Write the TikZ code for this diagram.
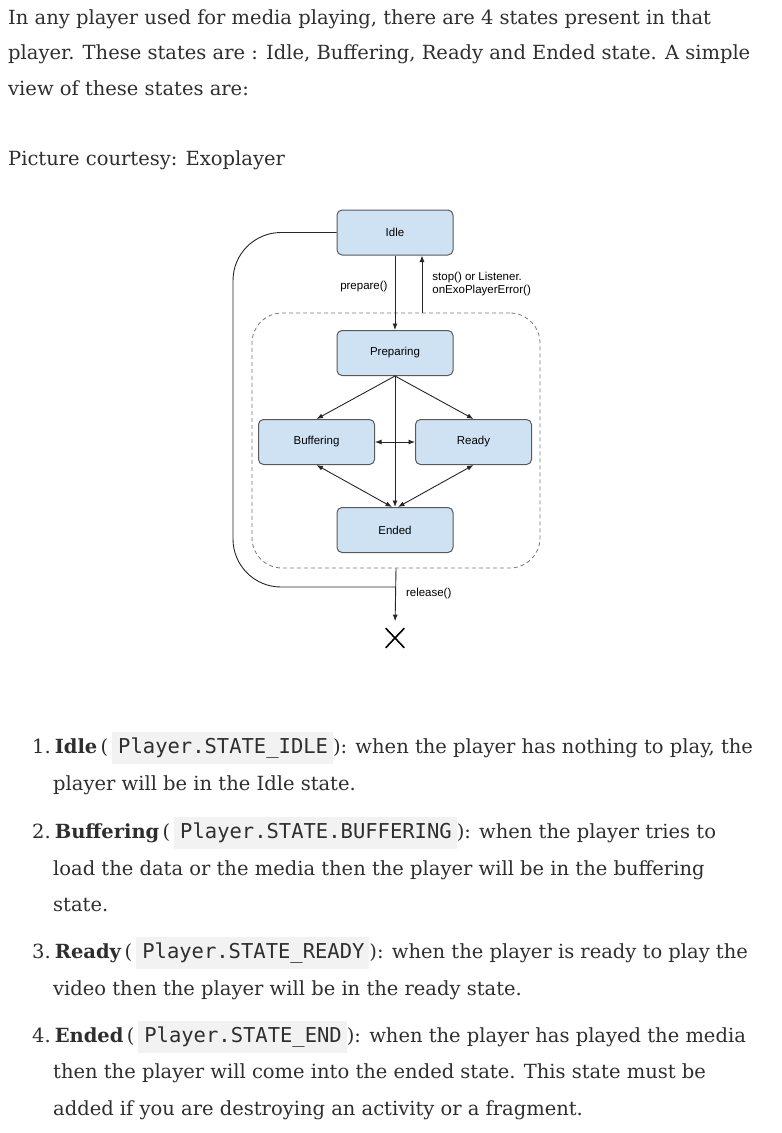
\documentclass[tikz,border=0pt]{standalone}
\usepackage{fontspec}
\setmainfont{DejaVu Serif}
\setsansfont{Liberation Sans}
\newfontfamily\monofont{DejaVu Sans Mono}
\usetikzlibrary{arrows.meta,shapes.misc}

\definecolor{textgray}{HTML}{2E2E2E}
\definecolor{codebg}{HTML}{F2F2F2}
\definecolor{statefill}{HTML}{CFE2F3}
\definecolor{stateline}{HTML}{595959}
\definecolor{linkgray}{HTML}{262626}
\definecolor{groupgray}{HTML}{7A7A7A}

\newcommand{\statecode}[1]{{\setlength{\fboxsep}{0pt}\colorbox{codebg}{\rule[-11pt]{0pt}{32pt}\hspace{6pt}{\monofont\fontsize{20.5}{24}\selectfont #1}\hspace{5pt}}}}

\begin{document}
\begin{tikzpicture}[x=1pt, y=-1pt, >={Latex[length=6.5pt,width=5pt]},
		line/.style={anchor=base west, inner sep=0pt, text=textgray, font=\fontsize{19.5}{24}\selectfont},
		state/.style={draw=stateline, fill=statefill, rounded corners=5pt, line width=1pt,
			minimum width=116, minimum height=45, font=\sffamily\fontsize{11.5}{13}\selectfont},
		group/.style={draw=groupgray, line width=0.8pt, dash pattern=on 4pt off 3pt, rounded corners=30pt,
			minimum width=288, minimum height=255},
		lab/.style={inner sep=0pt, align=left, font=\sffamily\fontsize{11.5}{13}\selectfont},
		link/.style={draw=linkgray, line width=0.9pt}]
	\useasboundingbox (0,0) rectangle (782,1133);
	% text above the picture
	\node[line] (intro1) at (8,24) {In any player used for media playing, there are 4 states present in that};
	\node[line] (intro2) at (8,59) {player. These states are : Idle, Buffering, Ready and Ended state. A simple};
	\node[line] (intro3) at (8,95) {view of these states are:};
	\node[line] (credit) at (8,165) {Picture courtesy: Exoplayer};
	% states
	\node[state] (idle) at (395,232.5) {Idle};
	\node[state] (prep) at (395,353) {Preparing};
	\node[state] (buff) at (316.5,442) {Buffering};
	\node[state] (ready) at (473.5,442) {Ready};
	\node[state] (ended) at (395,530) {Ended};
	\node[group] (group) at (396,440.5) {};
	\node[cross out, draw=black, line width=1.6pt, minimum width=17, minimum height=18, inner sep=0pt] (gone) at (395,638) {};
	\coordinate (join) at (395,587);
	% transitions
	\draw[link,->] (idle) -- node[lab, pos=0.42, left=7pt] {prepare()} (prep);
	\draw[link,->] ([xshift=27pt]idle.south |- group.north) -- node[lab, right=10pt] {stop() or Listener.\\onExoPlayerError()} ([xshift=27pt]idle.south);
	\draw[link,->] (prep.south) -- (buff.north);
	\draw[link,->] (prep.south) -- (ready.north);
	\draw[link,->] (prep) -- (ended);
	\draw[link,<->] (buff) -- (ready);
	\draw[link,<->] (buff.south) -- ([xshift=-3pt]ended.north);
	\draw[link,<->] (ready.south) -- ([xshift=3pt]ended.north);
	\draw[link, rounded corners=48pt] (idle.west) -- (233,232.5) -- (233,587) -- (join);
	\draw[link,->,shorten >=7pt] (group.south) -- node[lab, pos=0.42, right=10pt] {release()} (gone.north);
	% list below the picture
	\node[line] (idle1) at (32,753) {1.\hspace{4pt}\textbf{Idle}\,(\hspace{4pt}\statecode{Player.STATE\_IDLE}): when the player has nothing to play, the};
	\node[line] (idle2) at (53,790) {player will be in the Idle state.};
	\node[line] (buff1) at (32,838) {2.\hspace{4pt}\textbf{Buffering}\,(\hspace{4pt}\statecode{Player.STATE.BUFFERING}): when the player tries to};
	\node[line] (buff2) at (53,875) {load the data or the media then the player will be in the buffering};
	\node[line] (buff3) at (53,911) {state.};
	\node[line] (ready1) at (32,958) {3.\hspace{4pt}\textbf{Ready}\,(\hspace{4pt}\statecode{Player.STATE\_READY}): when the player is ready to play the};
	\node[line] (ready2) at (53,995) {video then the player will be in the ready state.};
	\node[line] (ended1) at (32,1042) {4.\hspace{4pt}\textbf{Ended}\,(\hspace{4pt}\statecode{Player.STATE\_END}): when the player has played the media};
	\node[line] (ended2) at (53,1078) {then the player will come into the ended state. This state must be};
	\node[line] (ended3) at (53,1115) {added if you are destroying an activity or a fragment.};
\end{tikzpicture}
\end{document}
